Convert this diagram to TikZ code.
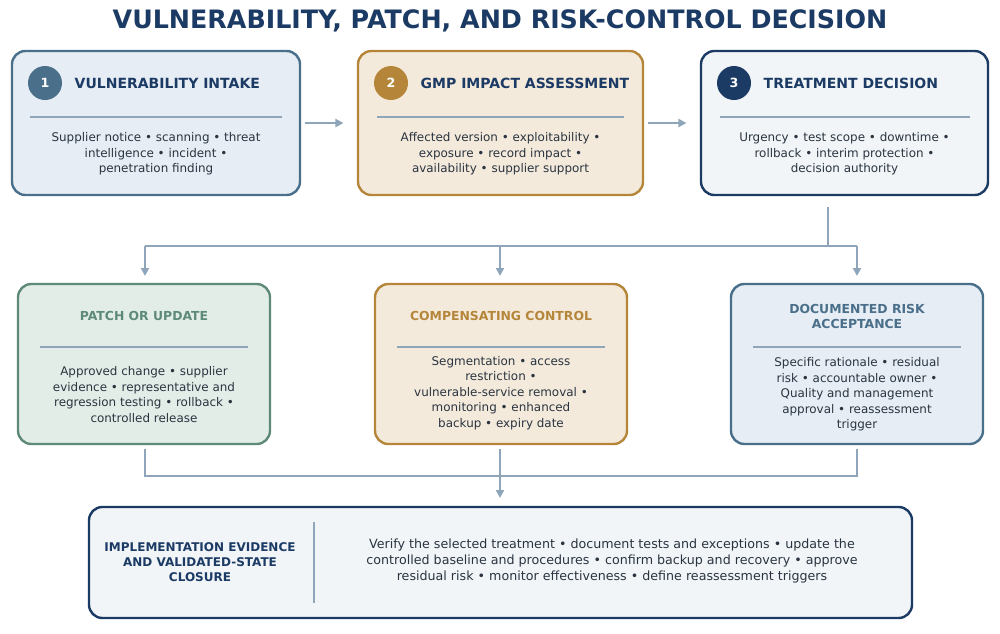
\documentclass[tikz,border=0pt]{standalone}
\usepackage{fontspec}
\setmainfont{DejaVu Sans}
\usetikzlibrary{arrows.meta}
\definecolor{navy}{HTML}{1B3A64}
\definecolor{steel}{HTML}{4A6F8A}
\definecolor{steelf}{HTML}{E6EDF4}
\definecolor{gold}{HTML}{B5863A}
\definecolor{goldf}{HTML}{F4EADC}
\definecolor{navyf}{HTML}{F1F5F8}
\definecolor{green}{HTML}{5E8A78}
\definecolor{greenf}{HTML}{E3EDE8}
\definecolor{conn}{HTML}{8FA6BA}
\definecolor{txt}{HTML}{2A3440}
\begin{document}
\begin{tikzpicture}[x=0.75pt,y=-0.75pt,
 box/.style={draw,line width=1.8pt,rounded corners=10pt},
 body/.style={align=center,font=\fontsize{8.95}{11.6}\selectfont,text=txt},
 head/.style={font=\fontsize{10.5}{11.5}\selectfont\bfseries,text=navy},
 num/.style={circle,minimum size=25.5pt,inner sep=0pt,text=white,font=\fontsize{9.5}{10}\selectfont\bfseries},
 div/.style={draw=conn,line width=1pt},
 conn/.style={draw=conn,line width=2.2pt},
 arr/.style={conn,-{Triangle[length=6pt,width=6pt]}}]
\useasboundingbox (0,0) rectangle (1000,633);
\node[font=\fontsize{19}{22}\selectfont\bfseries,text=navy] (title) at (500,20.5) {VULNERABILITY, PATCH, AND RISK-CONTROL DECISION};
% row 1
\node[box,draw=steel,fill=steelf,minimum width=288*0.75pt,minimum height=144*0.75pt] (b1) at (156,123) {};
\node[box,draw=gold,fill=goldf,minimum width=285*0.75pt,minimum height=144*0.75pt] (b2) at (500.5,123) {};
\node[box,draw=navy,fill=navyf,minimum width=287*0.75pt,minimum height=144*0.75pt] (b3) at (844.5,123) {};
\node[num,fill=steel] (n1) at (45,83) {1};
\node[num,fill=gold] (n2) at (391,83) {2};
\node[num,fill=navy] (n3) at (734,83) {3};
\node[head,anchor=west] (h1) at (70,83) {VULNERABILITY INTAKE};
\node[head,anchor=west] (h2) at (416,83) {GMP IMPACT ASSESSMENT};
\node[head,anchor=west] (h3) at (759,83) {TREATMENT DECISION};
\draw[div] (30,117) -- (282,117);
\draw[div] (377,117) -- (624,117);
\draw[div] (720,117) -- (970,117);
\node[body] (t1) at (156,154) {Supplier notice • scanning • threat\\intelligence • incident •\\penetration finding};
\node[body] (t2) at (500.5,154) {Affected version • exploitability •\\exposure • record impact •\\availability • supplier support};
\node[body] (t3) at (844.5,154) {Urgency • test scope • downtime •\\rollback • interim protection •\\decision authority};
\draw[arr] (b1.east)++(4,0) -- ([xshift=-10]b2.west);
\draw[arr] (b2.east)++(4,0) -- ([xshift=-10]b3.west);
% row 2
\node[box,draw=green,fill=greenf,minimum width=252*0.75pt,minimum height=160*0.75pt] (b4) at (144,364) {};
\node[box,draw=gold,fill=goldf,minimum width=252*0.75pt,minimum height=160*0.75pt] (b5) at (501,364) {};
\node[box,draw=steel,fill=steelf,minimum width=252*0.75pt,minimum height=160*0.75pt] (b6) at (857,364) {};
\node[head,text=green,font=\fontsize{9.3}{11}\selectfont\bfseries] (h4) at (144,316) {PATCH OR UPDATE};
\node[head,text=gold,font=\fontsize{9.3}{11}\selectfont\bfseries] (h5) at (501,316) {COMPENSATING CONTROL};
\node[head,text=steel,align=center,font=\fontsize{9.3}{11}\selectfont\bfseries] (h6) at (857,316.5) {DOCUMENTED RISK\\ACCEPTANCE};
\draw[div] (40,347) -- (248,347);
\draw[div] (397,347) -- (605,347);
\draw[div] (753,347) -- (961,347);
\node[body] (t4) at (144,394.5) {Approved change • supplier\\evidence • representative and\\regression testing • rollback •\\controlled release};
\node[body] (t5) at (501,393) {Segmentation • access\\restriction •\\vulnerable-service removal •\\monitoring • enhanced\\backup • expiry date};
\node[body] (t6) at (857,394.5) {Specific rationale • residual\\risk • accountable owner •\\Quality and management\\approval • reassessment\\trigger};
\coordinate (s3) at (828,207);
\coordinate (j3) at (828,246);
\draw[conn] (s3) -- (j3);
\draw[conn] (145,246) -- (857,246);
\draw[arr] (145,246) -- (145,276);
\draw[arr] (500,246) -- (500,276);
\draw[arr] (857,246) -- (857,276);
% row 3
\node[box,draw=navy,fill=navyf,minimum width=823*0.75pt,minimum height=111*0.75pt] (b7) at (500.5,562.5) {};
\draw[conn] (145,449) -- (145,476) -- (857,476) -- (857,449);
\draw[arr] (500,449) -- (500,498);
\node[head,align=center,font=\fontsize{9.0}{11}\selectfont\bfseries] (h7) at (200,562) {IMPLEMENTATION EVIDENCE\\AND VALIDATED-STATE\\CLOSURE};
\draw[div,line width=1.4pt] (314,522) -- (314,603);
\node[body,font=\fontsize{9.5}{12}\selectfont] (t7) at (612,561) {Verify the selected treatment • document tests and exceptions • update the\\controlled baseline and procedures • confirm backup and recovery • approve\\residual risk • monitor effectiveness • define reassessment triggers};
\end{tikzpicture}
\end{document}
